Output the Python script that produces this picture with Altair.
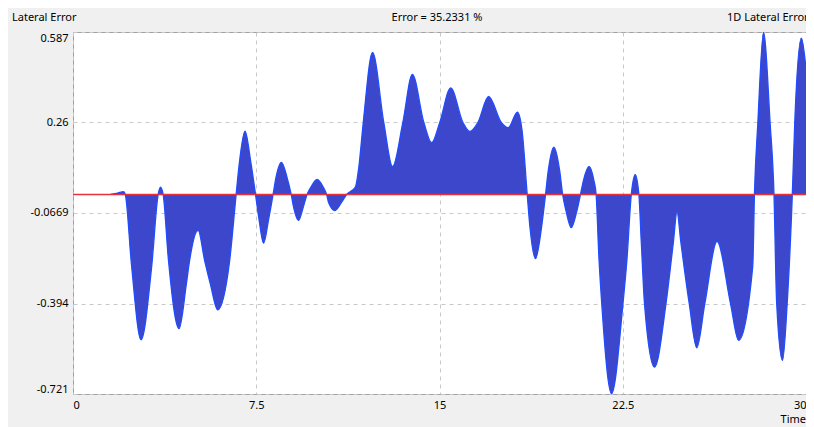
import altair as alt
import pandas as pd

# Curve (time, lateral error)
time = [1.54, 1.83, 2.07, 2.14, 2.40, 2.785, 3.22, 3.486, 3.58, 3.689,
        3.91, 4.34, 4.64, 4.77, 5.12, 5.39, 5.62, 5.92, 6.41, 6.677,
        6.81, 7.04, 7.28, 7.47, 7.61, 7.80, 8.01, 8.19, 8.30, 8.53, 8.77, 8.93,
        9.03, 9.23, 9.42, 9.58, 9.74, 9.99, 10.24, 10.38, 10.46, 10.72, 10.99, 11.20,
        11.43, 11.57, 11.70, 11.88, 12.26, 12.72, 13.08, 13.50, 13.89, 14.36, 14.68,
        15.01, 15.46, 15.96, 16.24, 16.57, 17.01, 17.53, 17.81, 18.19, 18.38, 18.59,
        18.70, 18.93, 19.18, 19.34, 19.45, 19.68, 19.92, 20.04, 20.18, 20.39, 20.62, 20.77,
        20.89, 21.12, 21.32, 21.41, 21.53, 21.64, 22.04, 22.51, 22.67, 22.85, 23.01, 23.16,
        23.26, 23.39, 23.80, 24.27, 24.57, 24.72, 24.88, 25.22, 25.53, 25.86, 26.36, 26.91,
        27.24, 27.82, 27.89, 28.03, 28.26, 28.53, 28.69, 28.80, 29.04, 29.23, 29.44,
        29.54, 29.81, 30.0]
error = [0.0, 0.005, 0.01, 0.0, -0.26, -0.525, -0.26, 0.0, 0.026, 0.0,
         -0.24, -0.485, -0.323, -0.24, -0.130, -0.24, -0.323, -0.417, -0.24, 0.0,
         0.115, 0.229, 0.115, 0.0, -0.088, -0.176, -0.088, 0.0, 0.058, 0.116, 0.058, 0.0,
         -0.047, -0.094, -0.047, 0.0, 0.027, 0.054, 0.027, 0.0, -0.029, -0.058, -0.029, 0.0,
         0.015, 0.03, 0.10, 0.26, 0.513, 0.26, 0.101, 0.26, 0.434, 0.26, 0.187,
         0.26, 0.385, 0.26, 0.228, 0.26, 0.354, 0.26, 0.241, 0.297, 0.23, 0.0,
         -0.116, -0.232, -0.116, 0.0, 0.085, 0.171, 0.085, 0.0, -0.06, -0.120, -0.06, 0.0,
         0.05, 0.101, 0.05, 0.0, -0.237, -0.394, -0.72, -0.394, -0.237, 0.0, 0.072, 0.0,
         -0.174, -0.394, -0.624, -0.394, -0.174, -0.064, -0.174, -0.394, -0.554, -0.394, -0.169, -0.394,
         -0.527, -0.26, 0.0, 0.26, 0.586, 0.26, 0.0, -0.394, -0.600, -0.394, 0.0,
         0.26, 0.565, 0.455]

y_ticks = [0.587, 0.26, -0.0669, -0.394, -0.721]
x_ticks = [0, 7.5, 15, 22.5, 30]

title_left = "Lateral Error"
title_center = "Error = 35.2331 %"
title_right = "1D Lateral Error"
x_title = "Time"

df = pd.DataFrame({"t": time, "e": error})

FONT = "Noto Sans"
W, H = 733, 362

xs = alt.Scale(domain=[0, 30], nice=False, zero=False)
ys = alt.Scale(domain=[-0.721, 0.587], nice=False, zero=False)

xax = alt.Axis(values=x_ticks, labelExpr="'' + datum.value", title=None, ticks=False,
               domain=False, grid=True, gridDash=[4, 4], gridColor="#c8c8c8",
               labelFlush=True, labelPadding=5, labelFont=FONT, labelFontSize=11,
               labelColor="#000000")
yax = alt.Axis(values=y_ticks, labelExpr="'' + datum.value", title=None, ticks=False,
               domain=False, grid=True, gridDash=[4, 4], gridColor="#c8c8c8",
               labelFlush=True, labelPadding=5, labelFont=FONT, labelFontSize=11,
               labelColor="#000000")

base = alt.Chart(df)

area = base.mark_area(interpolate="monotone", color="#3d47cc", opacity=1).encode(
    x=alt.X("t:Q", scale=xs, axis=xax),
    y=alt.Y("e:Q", scale=ys, axis=yax),
    y2=alt.datum(0),
)
line = base.mark_line(interpolate="monotone", color="#1f4dff", strokeWidth=1.3).encode(
    x=alt.X("t:Q", scale=xs),
    y=alt.Y("e:Q", scale=ys),
)
zero = alt.Chart(pd.DataFrame({"z": [0.0]})).mark_rule(color="#e8303a", strokeWidth=1.5).encode(
    y=alt.Y("z:Q", scale=ys),
)

def label(text, x, y, align):
    return alt.Chart(pd.DataFrame({"s": [text]})).mark_text(
        align=align, baseline="middle", font=FONT, fontSize=11, color="#000000"
    ).encode(text="s:N", x=alt.value(x), y=alt.value(y))

chart = alt.layer(
    area, line, zero,
    label(title_left, -61, -14, "left"),
    label(title_center, 364, -14, "center"),
    label(title_right, 654, -14, "left"),
    label(x_title, W, H + 26, "right"),
).properties(
    width=W, height=H,
    autosize=alt.AutoSizeParams(type="none"),
    padding={"left": 65, "top": 24, "right": 0, "bottom": 33},
    background="#f0f0f0",
).configure_view(
    stroke="#a0a0a0", strokeWidth=1, fill="#ffffff"
)

chart.save("out.html", embed_options={"renderer": "svg", "actions": False})
